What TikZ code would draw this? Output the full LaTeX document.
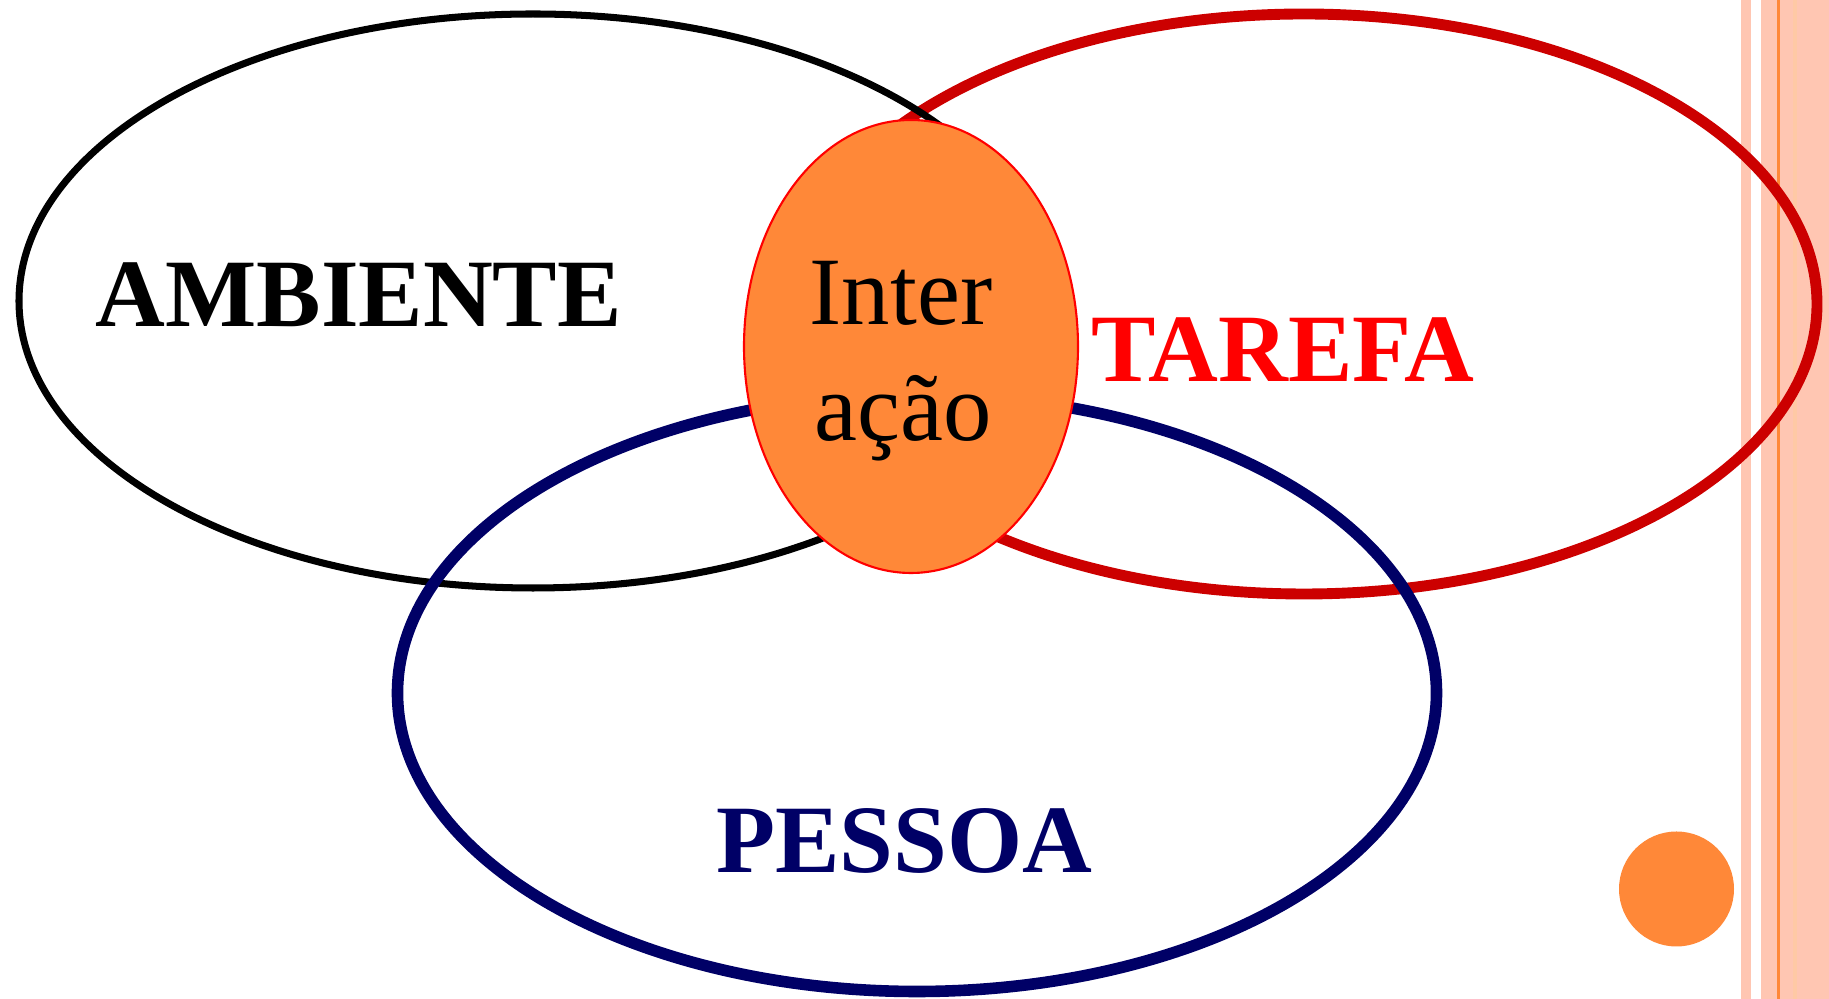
\documentclass[tikz,border=0pt]{standalone}
\usepackage{fontspec}
\setmainfont{Liberation Serif}
\definecolor{darkred}{HTML}{CC0000}
\definecolor{navy}{HTML}{000066}
\definecolor{bluborange}{HTML}{FF8838}
\definecolor{stripe}{HTML}{FFC6B2}
\tikzset{
  label/.style={font=\fontsize{27.5}{33}\selectfont\bfseries, inner sep=0pt},
  inter/.style={font=\fontsize{27.5}{33}\selectfont, inner sep=0pt, anchor=base}
}
\begin{document}
\begin{tikzpicture}
\useasboundingbox (0,0) rectangle (18.29,9.99);
% stripes on the right
\fill[stripe] (17.41,0) rectangle (17.51,9.99);
\fill[stripe] (17.61,0) rectangle (18.29,9.99);
\fill[bluborange] (17.77,0) rectangle (17.80,9.99);
\fill[bluborange!45] (17.93,0) rectangle (17.97,9.99);
% the three sets
\draw[darkred, line width=3.1pt] (13.04,6.95) ellipse [x radius=5.13, y radius=2.90];
\draw[black, line width=2pt] (5.33,6.98) ellipse [x radius=5.14, y radius=2.87];
\draw[navy, line width=3.3pt] (9.17,3.06) ellipse [x radius=5.195, y radius=2.985];
% overlap
\draw[red, fill=bluborange, line width=0.6pt] (9.11,6.525) ellipse [x radius=1.67, y radius=2.265];
\node[inter] (inter) at (9.01,6.747) {Inter};
\node[inter] (acao) at (9.03,5.58) {ação};
% labels
\node[label] (ambiente) at (3.587,7.045) {AMBIENTE};
\node[label, red] (tarefa) at (12.83,6.49) {TAREFA};
\node[label, navy] (pessoa) at (9.04,1.58) {PESSOA};
\fill[bluborange] (16.765,1.10) circle (0.575);
\end{tikzpicture}
\end{document}
